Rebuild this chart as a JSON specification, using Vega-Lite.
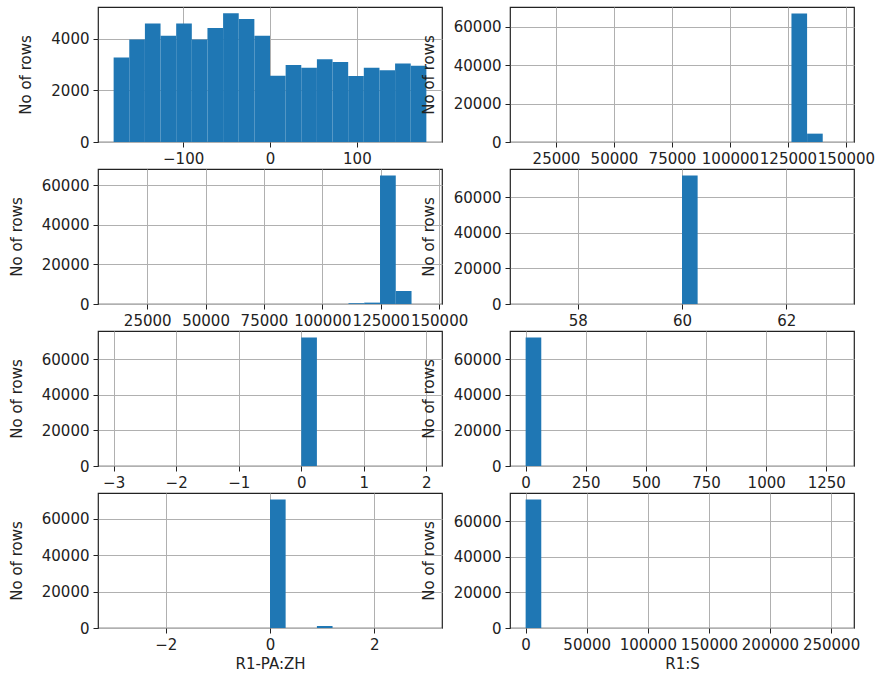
{
  "$schema": "https://vega.github.io/schema/vega-lite/v6.json",
  "padding": {"left": 8, "top": 6, "right": 0, "bottom": 0},
  "bounds": "flush",
  "columns": 2,
  "spacing": {"row": 27, "column": 68},
  "config": {
    "font": "DejaVu Sans",
    "view": {"stroke": "#222", "strokeWidth": 1.2},
    "axis": {
      "labelFont": "DejaVu Sans", "labelFontSize": 15, "labelColor": "#222",
      "titleFont": "DejaVu Sans", "titleFontSize": 15, "titleFontWeight": "normal", "titleColor": "#222",
      "gridColor": "#b0b0b0", "gridWidth": 1, "tickColor": "#222", "tickSize": 5, "labelPadding": 4,
      "domain": false, "labelOverlap": false, "labelFlush": false, "zindex": 1, "format": "d"
    },
    "axisY": {"titlePadding": 17},
    "axisX": {"titlePadding": 4},
    "bar": {"color": "#1f77b4"}
  },
  "datasets": {
    "p1": [
      {"b0": -180, "b1": -162, "count": 3280},
      {"b0": -162, "b1": -144, "count": 3980},
      {"b0": -144, "b1": -126, "count": 4600},
      {"b0": -126, "b1": -108, "count": 4120},
      {"b0": -108, "b1": -90, "count": 4600},
      {"b0": -90, "b1": -72, "count": 3980},
      {"b0": -72, "b1": -54, "count": 4420},
      {"b0": -54, "b1": -36, "count": 4990},
      {"b0": -36, "b1": -18, "count": 4770},
      {"b0": -18, "b1": 0, "count": 4120},
      {"b0": 0, "b1": 18, "count": 2570},
      {"b0": 18, "b1": 36, "count": 2990},
      {"b0": 36, "b1": 54, "count": 2880},
      {"b0": 54, "b1": 72, "count": 3210},
      {"b0": 72, "b1": 90, "count": 3100},
      {"b0": 90, "b1": 108, "count": 2560},
      {"b0": 108, "b1": 126, "count": 2880},
      {"b0": 126, "b1": 144, "count": 2780},
      {"b0": 144, "b1": 162, "count": 3050},
      {"b0": 162, "b1": 180, "count": 2960}
    ],
    "p2": [
      {"b0": 126510, "b1": 133250, "count": 66950},
      {"b0": 133250, "b1": 139990, "count": 4350}
    ],
    "p3": [
      {"b0": 111200, "b1": 117950, "count": 400},
      {"b0": 117950, "b1": 124700, "count": 700},
      {"b0": 124700, "b1": 131450, "count": 65070},
      {"b0": 131450, "b1": 138200, "count": 6590}
    ],
    "p4": [
      {"b0": 60, "b1": 60.3, "count": 72200}
    ],
    "p5": [
      {"b0": 0, "b1": 0.25, "count": 72200}
    ],
    "p6": [
      {"b0": 0, "b1": 65, "count": 72200}
    ],
    "p7": [
      {"b0": 0, "b1": 0.3, "count": 70700},
      {"b0": 0.9, "b1": 1.2, "count": 1100}
    ],
    "p8": [
      {"b0": 0, "b1": 12800, "count": 72200}
    ]
  },
  "concat": [
    {
      "width": 344, "height": 135, "data": {"name": "p1"}, "mark": "bar",
      "encoding": {
        "x": {"field": "b0", "type": "quantitative", "scale": {"domain": [-198, 198], "nice": false, "zero": false}, "axis": {"values": [-100, 0, 100], "title": null}},
        "x2": {"field": "b1"},
        "y": {"field": "count", "type": "quantitative", "scale": {"domain": [0, 5237], "nice": false}, "axis": {"values": [0, 2000, 4000], "title": "No of rows"}},
        "y2": {"datum": 0}
      }
    },
    {
      "width": 344, "height": 135, "data": {"name": "p2"}, "mark": "bar",
      "encoding": {
        "x": {"field": "b0", "type": "quantitative", "scale": {"domain": [5190, 153470], "nice": false, "zero": false}, "axis": {"values": [25000, 50000, 75000, 100000, 125000, 150000], "title": null}},
        "x2": {"field": "b1"},
        "y": {"field": "count", "type": "quantitative", "scale": {"domain": [0, 70300], "nice": false}, "axis": {"values": [0, 20000, 40000, 60000], "title": "No of rows"}},
        "y2": {"datum": 0}
      }
    },
    {
      "width": 344, "height": 135, "data": {"name": "p3"}, "mark": "bar",
      "encoding": {
        "x": {"field": "b0", "type": "quantitative", "scale": {"domain": [3920, 151250], "nice": false, "zero": false}, "axis": {"values": [25000, 50000, 75000, 100000, 125000, 150000], "title": null}},
        "x2": {"field": "b1"},
        "y": {"field": "count", "type": "quantitative", "scale": {"domain": [0, 68320], "nice": false}, "axis": {"values": [0, 20000, 40000, 60000], "title": "No of rows"}},
        "y2": {"datum": 0}
      }
    },
    {
      "width": 344, "height": 135, "data": {"name": "p4"}, "mark": "bar",
      "encoding": {
        "x": {"field": "b0", "type": "quantitative", "scale": {"domain": [56.7, 63.3], "nice": false, "zero": false}, "axis": {"values": [58, 60, 62], "title": null}},
        "x2": {"field": "b1"},
        "y": {"field": "count", "type": "quantitative", "scale": {"domain": [0, 75810], "nice": false}, "axis": {"values": [0, 20000, 40000, 60000], "title": "No of rows"}},
        "y2": {"datum": 0}
      }
    },
    {
      "width": 344, "height": 135, "data": {"name": "p5"}, "mark": "bar",
      "encoding": {
        "x": {"field": "b0", "type": "quantitative", "scale": {"domain": [-3.25, 2.25], "nice": false, "zero": false}, "axis": {"values": [-3, -2, -1, 0, 1, 2], "title": null}},
        "x2": {"field": "b1"},
        "y": {"field": "count", "type": "quantitative", "scale": {"domain": [0, 75810], "nice": false}, "axis": {"values": [0, 20000, 40000, 60000], "title": "No of rows"}},
        "y2": {"datum": 0}
      }
    },
    {
      "width": 344, "height": 135, "data": {"name": "p6"}, "mark": "bar",
      "encoding": {
        "x": {"field": "b0", "type": "quantitative", "scale": {"domain": [-65, 1365], "nice": false, "zero": false}, "axis": {"values": [0, 250, 500, 750, 1000, 1250], "title": null}},
        "x2": {"field": "b1"},
        "y": {"field": "count", "type": "quantitative", "scale": {"domain": [0, 75810], "nice": false}, "axis": {"values": [0, 20000, 40000, 60000], "title": "No of rows"}},
        "y2": {"datum": 0}
      }
    },
    {
      "width": 344, "height": 135, "data": {"name": "p7"}, "mark": "bar",
      "encoding": {
        "x": {"field": "b0", "type": "quantitative", "scale": {"domain": [-3.3, 3.3], "nice": false, "zero": false}, "axis": {"values": [-2, 0, 2], "title": "R1-PA:ZH"}},
        "x2": {"field": "b1"},
        "y": {"field": "count", "type": "quantitative", "scale": {"domain": [0, 74235], "nice": false}, "axis": {"values": [0, 20000, 40000, 60000], "title": "No of rows"}},
        "y2": {"datum": 0}
      }
    },
    {
      "width": 344, "height": 135, "data": {"name": "p8"}, "mark": "bar",
      "encoding": {
        "x": {"field": "b0", "type": "quantitative", "scale": {"domain": [-12800, 268800], "nice": false, "zero": false}, "axis": {"values": [0, 50000, 100000, 150000, 200000, 250000], "title": "R1:S"}},
        "x2": {"field": "b1"},
        "y": {"field": "count", "type": "quantitative", "scale": {"domain": [0, 75810], "nice": false}, "axis": {"values": [0, 20000, 40000, 60000], "title": "No of rows"}},
        "y2": {"datum": 0}
      }
    }
  ]
}
